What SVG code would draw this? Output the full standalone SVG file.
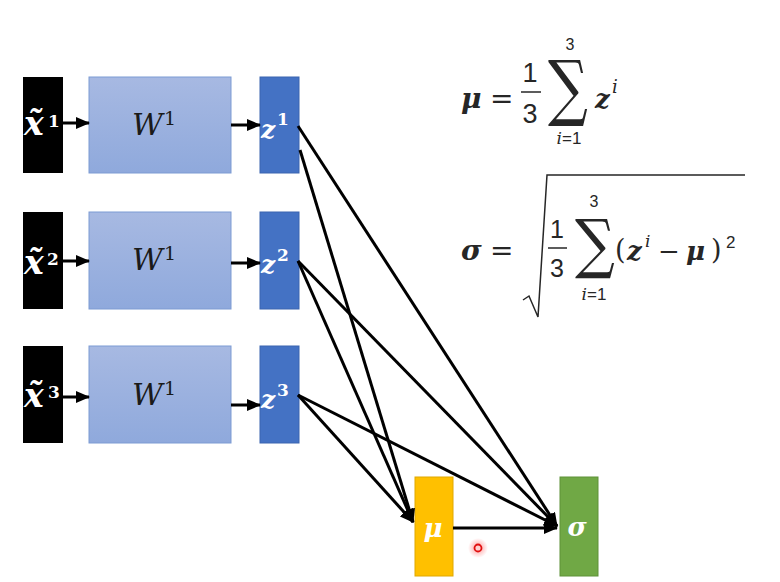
<svg xmlns="http://www.w3.org/2000/svg" width="780" height="582" viewBox="0 0 780 582">
<style>
.inp{fill:#000}
.w{fill:url(#wg);stroke:#7d9bd3;stroke-width:1}
.z{fill:#4472c4;stroke:#3a64b0;stroke-width:1}
.mu{fill:#ffc000;stroke:#e0a800;stroke-width:1}
.sg{fill:#70a845;stroke:#5e9238;stroke-width:1}
.lx{font-family:"DejaVu Serif",serif;font-weight:bold;font-style:italic;fill:#fff}
.lw{font-family:"DejaVu Serif",serif;font-style:italic;fill:#1a1a1a}
.sup{font-family:"DejaVu Serif",serif;font-weight:bold;fill:#fff}
.supw{font-family:"DejaVu Serif",serif;fill:#1a1a1a}
.c{stroke:#000;stroke-width:3;fill:none;marker-end:url(#ah)}
.m{font-family:"DejaVu Serif",serif;fill:#262626}
.mb{font-family:"DejaVu Serif",serif;font-weight:bold;font-style:italic;fill:#262626}
.mi{font-family:"DejaVu Serif",serif;font-style:italic;fill:#262626}
.mn{font-family:"Liberation Sans",sans-serif;fill:#262626}
</style>
<defs>
<linearGradient id="wg" x1="0" y1="0" x2="0" y2="1">
<stop offset="0" stop-color="#a7b9e2"/>
<stop offset="1" stop-color="#8fa9dc"/>
</linearGradient>
<marker id="ah" markerUnits="userSpaceOnUse" markerWidth="14" markerHeight="12" refX="13" refY="6" orient="auto">
<path d="M0,0 L14,6 L0,12 Z" fill="#000"/>
</marker>
<radialGradient id="glow">
<stop offset="0" stop-color="#ff3030" stop-opacity="0.5"/>
<stop offset="1" stop-color="#ff3030" stop-opacity="0"/>
</radialGradient>
</defs>

<g id="x1"><rect class="inp" x="23" y="77" width="40" height="96"/><text class="lx" x="24" y="135" font-size="33">x&#771;</text><text class="sup" x="48" y="127" font-size="17">1</text></g>
<g id="x2"><rect class="inp" x="23" y="212" width="40" height="97"/><text class="lx" x="24" y="274" font-size="33">x&#771;</text><text class="sup" x="47" y="265" font-size="17">2</text></g>
<g id="x3"><rect class="inp" x="23" y="346" width="40" height="97"/><text class="lx" x="24" y="407" font-size="33">x&#771;</text><text class="sup" x="48" y="398" font-size="17">3</text></g>

<g id="w1"><rect class="w" x="89" y="77" width="142" height="96"/><text class="lw" x="132" y="135" font-size="30">W</text><text class="supw" x="164" y="125" font-size="19">1</text></g>
<g id="w2"><rect class="w" x="89" y="212" width="142" height="97"/><text class="lw" x="132" y="270" font-size="30">W</text><text class="supw" x="164" y="260" font-size="19">1</text></g>
<g id="w3"><rect class="w" x="89" y="346" width="142" height="97"/><text class="lw" x="132" y="405" font-size="30">W</text><text class="supw" x="164" y="395" font-size="19">1</text></g>

<g id="z1"><rect class="z" x="260" y="77" width="39" height="96"/><text class="lx" x="261" y="138" font-size="25">z</text><text class="sup" x="277" y="125" font-size="17">1</text></g>
<g id="z2"><rect class="z" x="260" y="212" width="39" height="97"/><text class="lx" x="261" y="273" font-size="25">z</text><text class="sup" x="277" y="261" font-size="17">2</text></g>
<g id="z3"><rect class="z" x="260" y="346" width="39" height="97"/><text class="lx" x="261" y="408" font-size="25">z</text><text class="sup" x="277" y="396" font-size="17">3</text></g>

<g id="mu"><rect class="mu" x="415" y="477" width="38" height="99"/><text class="lx" x="433" y="537" font-size="26" text-anchor="middle">μ</text></g>
<g id="sigma"><rect class="sg" x="560" y="477" width="38" height="99"/><text class="lx" x="577" y="536" font-size="26" text-anchor="middle">σ</text></g>

<g id="connectors">
<line class="c" x1="63" y1="123" x2="89" y2="123"/>
<line class="c" x1="63" y1="261" x2="89" y2="261"/>
<line class="c" x1="63" y1="397" x2="89" y2="397"/>
<line class="c" x1="231" y1="125" x2="260" y2="125"/>
<line class="c" x1="231" y1="263" x2="260" y2="263"/>
<line class="c" x1="231" y1="405" x2="260" y2="405"/>
<line class="c" x1="298" y1="126" x2="557" y2="526"/>
<line class="c" x1="300" y1="150" x2="413" y2="522"/>
<line class="c" x1="298" y1="261" x2="557" y2="526"/>
<line class="c" x1="298" y1="261" x2="413" y2="522"/>
<line class="c" x1="298" y1="395" x2="557" y2="526"/>
<line class="c" x1="298" y1="395" x2="413" y2="522"/>
<line class="c" x1="453" y1="528" x2="557" y2="528"/>
</g>

<g id="formula-mu">
<text class="mb" x="461" y="108" font-size="28">μ</text>
<text class="m" x="490" y="108" font-size="28">=</text>
<text class="mn" x="530" y="82" font-size="27" text-anchor="middle">1</text>
<line x1="521" y1="92" x2="541" y2="92" stroke="#262626" stroke-width="1.5"/>
<text class="mn" x="530" y="123" font-size="27" text-anchor="middle">3</text>
<text class="m" font-size="62" text-anchor="middle" transform="translate(568,112) scale(0.9,1.17)">∑</text>
<text class="mn" x="570" y="50" font-size="16" text-anchor="middle">3</text>
<text x="569" y="144" font-size="17" text-anchor="middle"><tspan class="mi">i</tspan><tspan class="mn">=1</tspan></text>
<text class="mb" x="595" y="108" font-size="26">z</text>
<text class="mi" x="612" y="93" font-size="18">i</text>
</g>

<g id="formula-sigma">
<text class="mb" x="461" y="260" font-size="28">σ</text>
<text class="m" x="490" y="260" font-size="28">=</text>
<polyline points="523,300 529,296 538,317 547,175 745,175" fill="none" stroke="#262626" stroke-width="1.5"/>
<text class="mn" x="557" y="238" font-size="25" text-anchor="middle">1</text>
<line x1="548" y1="248" x2="567" y2="248" stroke="#262626" stroke-width="1.5"/>
<text class="mn" x="557" y="277" font-size="25" text-anchor="middle">3</text>
<text class="m" font-size="62" text-anchor="middle" transform="translate(595,266) scale(0.9,1.05)">∑</text>
<text class="mn" x="594" y="207" font-size="16" text-anchor="middle">3</text>
<text x="594" y="300" font-size="17" text-anchor="middle"><tspan class="mi">i</tspan><tspan class="mn">=1</tspan></text>
<text class="m" x="615" y="259" font-size="27">(</text>
<text class="mb" x="627" y="260" font-size="26">z</text>
<text class="mi" x="645" y="247" font-size="17">i</text>
<text class="m" x="658" y="260" font-size="26">−</text>
<text class="mb" x="686" y="260" font-size="26">μ</text>
<text class="m" x="711" y="259" font-size="27">)</text>
<text class="mn" x="726" y="248" font-size="17">2</text>
</g>

<g id="pointer">
<circle cx="478" cy="548" r="10" fill="url(#glow)"/>
<circle cx="478" cy="548" r="3.5" fill="#ffd0d0" stroke="#e01010" stroke-width="1.8"/>
</g>
</svg>
